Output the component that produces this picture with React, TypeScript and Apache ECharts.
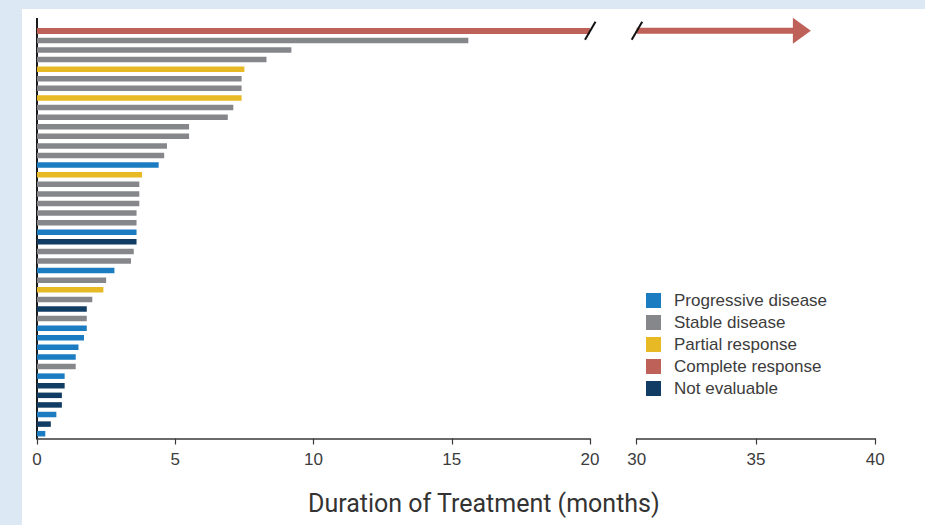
import React, { useEffect, useRef } from "react";
import * as echarts from "echarts";

// Response category per patient, top to bottom
const responses: string[] = [
  "CR", "SD", "SD", "SD", "PR", "SD", "SD", "PR", "SD", "SD", "SD", "SD", "SD", "SD",
  "PD", "PR", "SD", "SD", "SD", "SD", "SD", "PD", "NE", "SD", "SD", "PD", "SD", "PR",
  "SD", "NE", "SD", "PD", "PD", "PD", "PD", "SD", "PD", "NE", "NE", "NE", "PD", "NE", "PD",
];

// Duration of treatment in months, same order
const durations: number[] = [
  37.3, 15.6, 9.2, 8.3, 7.5, 7.4, 7.4, 7.4, 7.1, 6.9, 5.5, 5.5, 4.7, 4.6,
  4.4, 3.8, 3.7, 3.7, 3.7, 3.6, 3.6, 3.6, 3.6, 3.5, 3.4, 2.8, 2.5, 2.4,
  2.0, 1.8, 1.8, 1.8, 1.7, 1.5, 1.4, 1.4, 1.0, 1.0, 0.9, 0.9, 0.7, 0.5, 0.3,
];

const patients: string[] = durations.map((_, i) => String(i + 1));

const responseKeys = ["PD", "SD", "PR", "CR", "NE"];
const responseNames = [
  "Progressive disease",
  "Stable disease",
  "Partial response",
  "Complete response",
  "Not evaluable",
];
const responseColors = ["#1b7cc2", "#86878b", "#e6b925", "#be6159", "#113c64"];

const leftTicks = [0, 20];
const rightTicks = [30, 40];
const tickStep = 5;

const axisColor = "#3a3a3a";
const textColor = "#3c3c3c";

export default function App() {
  const ref = useRef<HTMLDivElement>(null);

  useEffect(() => {
    if (!ref.current) return;
    const chart = echarts.init(ref.current, null, { renderer: "svg" });

    const gridTop = 26;
    const gridHeight = 412.5;

    const barSeries = responseKeys.map((key, k) => ({
      name: responseNames[k],
      type: "bar",
      xAxisIndex: 0,
      yAxisIndex: 0,
      barWidth: key === "CR" ? 6 : 5.5,
      barGap: "-100%",
      clip: true,
      itemStyle: { color: responseColors[k] },
      data: durations.map((d, i) => (responses[i] === key ? d : "-")),
    }));

    // Continuing bars in the right-hand (broken) axis section, ending in an arrow
    const continued = durations
      .map((d, i) => [d, i])
      .filter(([d]) => d > rightTicks[0]);

    const arrowSeries = {
      name: "continuing",
      type: "custom",
      xAxisIndex: 1,
      yAxisIndex: 1,
      clip: false,
      data: continued,
      renderItem: (params: any, api: any) => {
        const row = api.value(1);
        const start = api.coord([rightTicks[0], row]);
        const tip = api.coord([api.value(0), row]);
        const headW = 18;
        const headH = 13;
        const shaftH = 6;
        const color = responseColors[3];
        return {
          type: "group",
          children: [
            {
              type: "rect",
              shape: {
                x: start[0],
                y: start[1] - shaftH / 2,
                width: tip[0] - headW - start[0] + 1,
                height: shaftH,
              },
              style: { fill: color },
            },
            {
              type: "polygon",
              shape: {
                points: [
                  [tip[0] - headW, tip[1] - headH],
                  [tip[0], tip[1]],
                  [tip[0] - headW, tip[1] + headH],
                ],
              },
              style: { fill: color },
            },
          ],
        };
      },
    };

    // Axis-break marks on the continuing bar
    const breakMark = (axisIndex: number, at: number) => ({
      name: "break" + axisIndex,
      type: "custom",
      xAxisIndex: axisIndex,
      yAxisIndex: axisIndex,
      clip: false,
      z: 5,
      data: continued.map(([, i]) => [at, i]),
      renderItem: (params: any, api: any) => {
        const p = api.coord([api.value(0), api.value(1)]);
        return {
          type: "line",
          shape: { x1: p[0] - 5, y1: p[1] + 9, x2: p[0] + 5.5, y2: p[1] - 9 },
          style: { stroke: "#111", lineWidth: 2 },
        };
      },
    });

    const xAxisCommon = {
      type: "value",
      interval: tickStep,
      splitLine: { show: false },
      axisLine: { show: true, lineStyle: { color: axisColor, width: 1.5 } },
      axisTick: { show: true, length: 6, lineStyle: { color: axisColor, width: 1.2 } },
      axisLabel: {
        color: textColor,
        fontSize: 17,
        fontFamily: "Liberation Sans, Arial, sans-serif",
        margin: 12,
      },
    };

    const yAxisCommon = {
      type: "category",
      data: patients,
      inverse: true,
      axisTick: { show: false },
      axisLabel: { show: false },
      splitLine: { show: false },
    };

    chart.setOption({
      animation: false,
      backgroundColor: "transparent",
      grid: [
        { left: 37, top: gridTop, width: 553, height: gridHeight },
        { left: 636.7, top: gridTop, width: 238.6, height: gridHeight },
      ],
      xAxis: [
        { ...xAxisCommon, gridIndex: 0, min: leftTicks[0], max: leftTicks[1] },
        { ...xAxisCommon, gridIndex: 1, min: rightTicks[0], max: rightTicks[1] },
      ],
      yAxis: [
        {
          ...yAxisCommon,
          gridIndex: 0,
          axisLine: { show: true, lineStyle: { color: "#1a1a1a", width: 2 } },
        },
        { ...yAxisCommon, gridIndex: 1, axisLine: { show: false } },
      ],
      legend: {
        orient: "vertical",
        left: 641,
        top: 287,
        itemWidth: 15,
        itemHeight: 15,
        itemGap: 5,
        icon: "rect",
        data: responseNames,
        textStyle: {
          color: textColor,
          fontSize: 17,
          fontFamily: "Liberation Sans, Arial, sans-serif",
          padding: [0, 0, 0, 8],
        },
      },
      title: {
        text: "Duration of Treatment (months)",
        left: 303,
        top: 486,
        textStyle: {
          color: "#333",
          fontSize: 25,
          fontWeight: "normal",
          fontFamily: "Roboto, sans-serif",
        },
      },
      graphic: [
        {
          type: "line",
          shape: { x1: 37, y1: 18, x2: 37, y2: gridTop },
          style: { stroke: "#1a1a1a", lineWidth: 2 },
        },
      ],
      series: [...barSeries, arrowSeries, breakMark(0, leftTicks[1]), breakMark(1, rightTicks[0])],
    });

    return () => chart.dispose();
  }, []);

  return (
    <div
      style={{
        position: "fixed",
        left: 0,
        top: 0,
        width: 925,
        height: 525,
        background: "#dce8f4",
        overflow: "hidden",
      }}
    >
      <div
        style={{
          position: "absolute",
          left: 22,
          top: 9,
          width: 903,
          height: 516,
          background: "#ffffff",
        }}
      />
      <div
        ref={ref}
        style={{ position: "absolute", left: 0, top: 0, width: 925, height: 525 }}
      />
    </div>
  );
}
